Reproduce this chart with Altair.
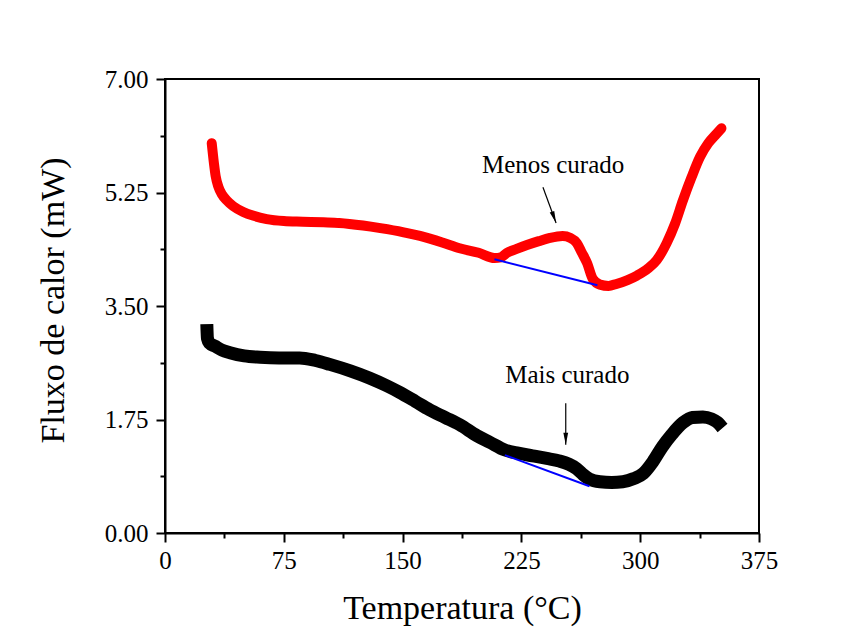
import altair as alt
import pandas as pd

# Menos curado (red)
red_x = [29.5, 30.9, 32, 33.7, 36, 38.9, 43, 49.4, 56, 64.2, 75, 87, 100, 110, 125, 136, 150, 161, 175, 186, 198, 208,
         212, 216, 222, 228.5, 236, 243, 251, 256, 260, 263, 266.5, 270, 274.6, 280, 285, 292, 298, 305, 310.5,
         316.7, 322, 327, 332.5, 337.8, 343, 348, 351.3]
red_y = [6.01, 5.70, 5.50, 5.34, 5.22, 5.13, 5.04, 4.95, 4.89, 4.84, 4.81, 4.80, 4.79, 4.78, 4.74, 4.70, 4.64, 4.58, 4.48, 4.39, 4.32, 4.24,
         4.25, 4.32, 4.38, 4.44, 4.50, 4.55, 4.58, 4.55, 4.47, 4.33, 4.16, 3.92, 3.83, 3.81, 3.84, 3.90, 3.97, 4.08, 4.21,
         4.47, 4.77, 5.13, 5.49, 5.80, 6.01, 6.15, 6.24]

# Mais curado (black)
blk_x = [26.4, 26.8, 28, 31.6, 36, 41, 50, 60, 72, 85, 95, 104, 117, 129, 140, 148, 158, 167, 177, 186, 197, 205,
         214.6, 223, 232, 241, 249, 255, 260, 264, 268, 274.6, 282, 289, 296, 302, 308, 314, 320, 327, 333, 339.6,
         345, 348.5, 352]
blk_y = [3.22, 3.0, 2.93, 2.88, 2.82, 2.78, 2.73, 2.71, 2.70, 2.70, 2.66, 2.60, 2.50, 2.39, 2.27, 2.17, 2.03, 1.90, 1.78, 1.67, 1.50, 1.40,
         1.28, 1.23, 1.19, 1.15, 1.11, 1.06, 0.99, 0.90, 0.83, 0.79, 0.78, 0.79, 0.84, 0.92, 1.10, 1.33, 1.52, 1.70, 1.78, 1.79,
         1.76, 1.71, 1.62]

# Baselines (blue)
base_id = ["r", "r", "b", "b"]
base_x = [208, 273, 214.6, 268]
base_y = [4.22, 3.82, 1.20, 0.72]

# Annotations
ann_text = ["Menos curado", "Mais curado"]
ann_x = [245, 254]
ann_y = [5.67, 2.44]
arr_x1 = [238.6, 253]
arr_y1 = [5.33, 2.0]
arr_x2 = [246.9, 253]
arr_y2 = [4.78, 1.36]
arr_angle = [340, 0]

x_ticks = [i * 37.5 for i in range(11)]
y_ticks = [i * 0.875 for i in range(9)]

red_df = pd.DataFrame({"x": red_x, "y": red_y})
blk_df = pd.DataFrame({"x": blk_x, "y": blk_y})
base_df = pd.DataFrame({"id": base_id, "x": base_x, "y": base_y})
ann_df = pd.DataFrame({"t": ann_text, "x": ann_x, "y": ann_y})
arr_df = pd.DataFrame({"x": arr_x1, "y": arr_y1, "x2": arr_x2, "y2": arr_y2, "a": arr_angle})

FONT = "Liberation Serif"

xaxis = alt.Axis(
    values=x_ticks,
    labelExpr="datum.value % 75 == 0 ? datum.value : ''",
    tickSize={"condition": {"test": "datum.value % 75 == 0", "value": 9}, "value": 5},
    title="Temperatura (°C)", titleFont=FONT, titleFontSize=34, titleFontWeight="normal",
    titleColor="black", titleY=85, titleBaseline="alphabetic",
    labelFont=FONT, labelFontSize=25, labelColor="black", labelPadding=6, labelFlush=False,
    domainColor="black", domainWidth=2, tickColor="black", tickWidth=2, grid=False,
)
yaxis = alt.Axis(
    values=y_ticks,
    labelExpr="datum.value % 1.75 == 0 ? format(datum.value, '.2f') : ''",
    tickSize={"condition": {"test": "datum.value % 1.75 == 0", "value": 9}, "value": 5},
    title="Fluxo de calor (mW)", titleFont=FONT, titleFontSize=34, titleFontWeight="normal",
    titleColor="black", titleX=-102, titleY=221, titleAngle=270, titleBaseline="alphabetic",
    titleAlign="center",
    labelFont=FONT, labelFontSize=25, labelColor="black", labelPadding=8, labelFlush=False,
    domainColor="black", domainWidth=2, tickColor="black", tickWidth=2, grid=False,
)

xs = alt.Scale(domain=[0, 375], nice=False, zero=False)
ys = alt.Scale(domain=[0, 7], nice=False, zero=False)
X = alt.X("x:Q", scale=xs, axis=xaxis)
Y = alt.Y("y:Q", scale=ys, axis=yaxis)

red = alt.Chart(red_df).mark_line(color="#ff0000", strokeWidth=10, strokeCap="round",
                                  strokeJoin="round", interpolate="monotone").encode(x=X, y=Y)
blk = alt.Chart(blk_df).mark_line(color="black", strokeWidth=13, strokeCap="butt",
                                  strokeJoin="round", interpolate="monotone").encode(x=X, y=Y)
base = alt.Chart(base_df).mark_line(color="#0000ff", strokeWidth=2).encode(x=X, y=Y, detail="id:N")
rules = alt.Chart(arr_df).mark_rule(color="black", strokeWidth=1.2).encode(x=X, y=Y, x2="x2:Q", y2="y2:Q")
heads = alt.Chart(arr_df).mark_point(shape="M0,0 L-0.4,-2 L0.4,-2 Z", filled=True, color="black",
                                     size=144, opacity=1).encode(
    x=alt.X("x2:Q", scale=xs, axis=xaxis), y=alt.Y("y2:Q", scale=ys, axis=yaxis),
    angle=alt.Angle("a:Q", scale=None))
texts = alt.Chart(ann_df).mark_text(font=FONT, fontSize=25, color="black", baseline="middle",
                                    align="center").encode(x=X, y=Y, text="t:N")

chart = alt.layer(red, blk, base, rules, heads, texts).properties(
    width=594, height=454,
    autosize=alt.AutoSizeParams(type="none"),
    padding={"left": 157, "top": 71, "right": 101, "bottom": 99},
).configure(
    background="white",
    view=alt.ViewConfig(stroke="black", strokeWidth=2),
)

chart.save("out.html", embed_options={"renderer": "svg", "actions": False})
